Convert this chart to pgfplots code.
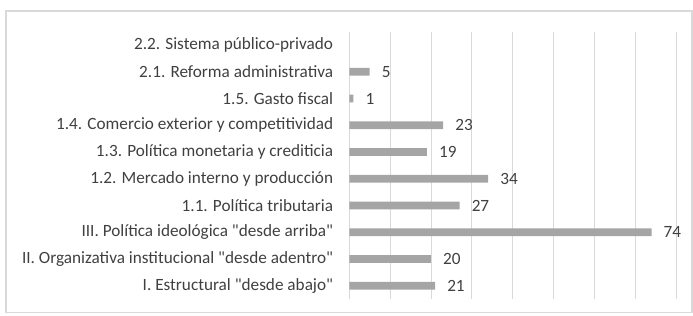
\documentclass[border=0pt]{standalone}
\usepackage{fontspec}
\setmainfont{Carlito}
\usepackage{pgfplots}
\pgfplotsset{compat=1.18}
\definecolor{barg}{HTML}{A5A5A5}
\definecolor{gridg}{HTML}{D9D9D9}
\definecolor{textg}{HTML}{404040}
\definecolor{frameg}{HTML}{D9D9D9}
\begin{document}
\begin{tikzpicture}[x=1bp,y=1bp]
\path[use as bounding box] (0,0) rectangle (693,315);
\draw[color=frameg, line width=1.5bp] (6,304) rectangle (692,2.5);
\begin{axis}[
  at={(349.3bp,15.9bp)}, anchor=south west,
  scale only axis, width=326.7bp, height=267.5bp,
  xmin=0, xmax=80, ymin=-0.5, ymax=9.5,
  xtick={0,10,...,80}, xticklabels={},
  ytick={0,...,9},
  yticklabels={{I. Estructural \textquotedbl desde abajo\textquotedbl},{II. Organizativa institucional \textquotedbl desde adentro\textquotedbl},{III. Política ideológica \textquotedbl desde arriba\textquotedbl},{1.1. Política tributaria},{1.2. Mercado interno y producción},{1.3. Política monetaria y crediticia},{1.4. Comercio exterior y competitividad},{1.5. Gasto fiscal},{2.1. Reforma administrativa},{2.2. Sistema público-privado}},
  xmajorgrids, grid style={color=gridg, line width=0.9bp},
  axis line style={draw=none},
  major tick length=0pt,
  y tick label style={font=\fontsize{17.2bp}{19bp}\selectfont, text=textg, inner sep=0pt, xshift=-16bp},
  /pgf/number format/assume math mode=true,
  clip=false,
]
\addplot[xbar, fill=barg, draw=none, bar width=7.7bp,
  nodes near coords,
  nodes near coords style={font=\fontsize{17.2bp}{19bp}\selectfont, text=textg, inner sep=0pt, xshift=12bp, anchor=west}]
  coordinates {(21,0) (20,1) (74,2) (27,3) (34,4) (19,5) (23,6) (1,7) (5,8)};
\end{axis}
\end{tikzpicture}
\end{document}
